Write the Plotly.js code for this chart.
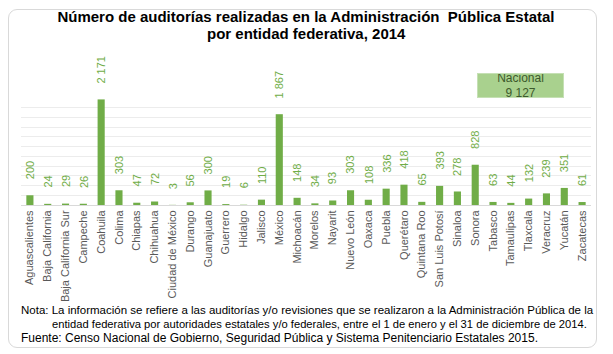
<!DOCTYPE html>
<html>
<head>
<meta charset="utf-8">
<script src="https://cdn.plot.ly/plotly-3.0.1.min.js"></script>
<style>
html,body{margin:0;padding:0;background:#fff;}
#wrap{position:relative;width:613px;height:354px;}
#chart{width:613px;height:354px;}
#frame{position:absolute;left:8px;top:9px;width:587px;height:337px;border:1px solid #d9d9d9;border-radius:9px;pointer-events:none;}
</style>
</head>
<body>
<div id="wrap"><div id="chart"></div><div id="frame"></div></div>
<script>
const estados = ["Aguascalientes","Baja California","Baja California Sur","Campeche","Coahuila","Colima","Chiapas","Chihuahua","Ciudad de México","Durango","Guanajuato","Guerrero","Hidalgo","Jalisco","México","Michoacán","Morelos","Nayarit","Nuevo León","Oaxaca","Puebla","Querétaro","Quintana Roo","San Luis Potosí","Sinaloa","Sonora","Tabasco","Tamaulipas","Tlaxcala","Veracruz","Yucatán","Zacatecas"];
const auditorias = [200,24,29,26,2171,303,47,72,3,56,300,19,6,110,1867,148,34,93,303,108,336,418,65,393,278,828,63,44,132,239,351,61];
const nacional = 9127;
const tituloL1 = "Número de auditorías realizadas en la Administración  Pública Estatal";
const tituloL2 = "por entidad federativa, 2014";
const nota1 = "Nota: La información se refiere a las auditorías y/o revisiones que se realizaron a la Administración Pública de la";
const nota2 = "entidad federativa por autoridades estatales y/o federales, entre el 1 de enero y el 31 de diciembre de 2014.";
const fuente = "Fuente: Censo Nacional de Gobierno, Seguridad Pública y Sistema Penitenciario Estatales 2015.";

const fmt = v => v.toString().replace(/\B(?=(\d{3})+(?!\d))/g, " ");
const FONT = "Liberation Sans, Arial, sans-serif";

const trace = {
  type: "bar",
  x: estados,
  y: auditorias,
  marker: {color: "#70AD47"},
  hoverinfo: "x+y",
  cliponaxis: false
};

const valueLabels = estados.map((e, i) => ({
  xref: "x", yref: "y", x: e, y: auditorias[i],
  text: fmt(auditorias[i]),
  textangle: -90,
  xanchor: "center", yanchor: "bottom", yshift: 14,
  showarrow: false,
  font: {family: FONT, size: 11, color: "#70AD47"}
}));

const layout = {
  width: 613, height: 354,
  margin: {l: 21, r: 22, t: 98, b: 149, pad: 0},
  paper_bgcolor: "#ffffff",
  plot_bgcolor: "#ffffff",
  separators: ". ",
  bargap: 0.6,
  showlegend: false,
  font: {family: FONT, color: "#595959"},
  title: {
    text: "<b>" + tituloL1 + "</b>",
    font: {family: FONT, size: 15, color: "#000000"},
    x: 0.5, xref: "paper", xanchor: "center",
    y: 1 - 17/354, yref: "container", yanchor: "middle"
  },
  xaxis: {
    type: "category",
    tickangle: -90,
    tickfont: {size: 11, color: "#595959"},
    showline: true, linecolor: "#d9d9d9", linewidth: 1,
    ticks: "", showgrid: false, fixedrange: true
  },
  yaxis: {
    range: [0, 2200], dtick: 200,
    showticklabels: false, showgrid: true, gridcolor: "#ececec", gridwidth: 1,
    zeroline: false, showline: false, ticks: "", fixedrange: true
  },
  annotations: [
    {
      xref: "paper", yref: "paper", x: 0.5, y: 1 + (98 - 33) / 107,
      xanchor: "center", yanchor: "middle", showarrow: false,
      text: "<b>" + tituloL2 + "</b>",
      font: {family: FONT, size: 15, color: "#000000"}
    },
    {
      xref: "paper", yref: "paper", x: 0.877, y: 1.118,
      xanchor: "center", yanchor: "middle",
      text: "Nacional<br>" + fmt(nacional),
      showarrow: false, align: "center",
      width: 85, height: 23,
      bgcolor: "#A9D18E", bordercolor: "#C5E0B4", borderwidth: 1, borderpad: 0,
      font: {size: 12, color: "#3D5A2C"}
    },
    {
      xref: "paper", yref: "paper", x: -0.004, y: -0.985,
      xanchor: "left", yanchor: "middle", showarrow: false, align: "left",
      text: nota1, font: {size: 11.5, color: "#000000"}
    },
    {
      xref: "paper", yref: "paper", x: 0.05, y: -1.115,
      xanchor: "left", yanchor: "middle", showarrow: false, align: "left",
      text: nota2, font: {size: 11.2, color: "#000000"}
    },
    {
      xref: "paper", yref: "paper", x: -0.004, y: -1.245,
      xanchor: "left", yanchor: "middle", showarrow: false, align: "left",
      text: fuente, font: {size: 12, color: "#000000"}
    }
  ].concat(valueLabels)
};

Plotly.newPlot("chart", [trace], layout, {displayModeBar: false, staticPlot: true});
</script>
</body>
</html>
